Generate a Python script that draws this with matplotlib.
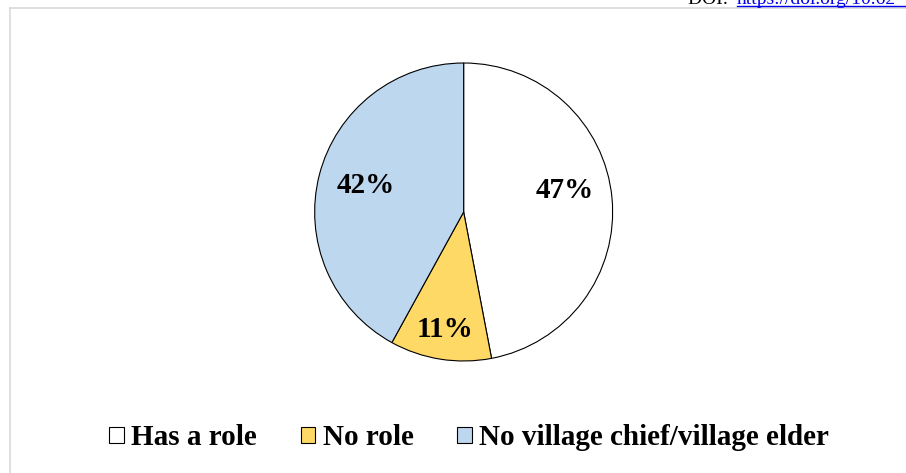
import numpy as np
import matplotlib.pyplot as plt
from matplotlib.lines import Line2D
from matplotlib.patches import Patch

labels = ["Has a role", "No role", "No village chief/village elder"]
shares = [47, 11, 42]
colors = ["#FFFFFF", "#FFD966", "#BDD7EE"]
label_dist = [0.68, 0.78, 0.68]
label_nudge = [0.08, -0.02, 0.01]

plt.rcParams['font.family'] = ['Liberation Serif', 'DejaVu Serif']

fig = plt.figure(figsize=(9.06, 4.73), dpi=100)
ax = fig.add_axes([0.3473, 0.2368, 0.3289, 0.63])

wedges, _ = ax.pie(shares, colors=colors, startangle=90, counterclock=False,
                   wedgeprops=dict(edgecolor="black", linewidth=0.8))
ax.set_aspect("equal")
ax.set_xlim(-1.0, 1.0)
ax.set_ylim(-1.0, 1.0)

for w, v, d, n in zip(wedges, shares, label_dist, label_nudge):
    ang = np.deg2rad((w.theta1 + w.theta2) / 2)
    ax.text(d * np.cos(ang), d * np.sin(ang) + n, f"{v}%", ha="center", va="center",
            fontsize=21, fontweight="bold")

handles = [Patch(facecolor=c, edgecolor="black", linewidth=0.8) for c in colors]
fig.legend(handles, labels, loc="center", bbox_to_anchor=(0.518, 0.074), ncol=3,
           frameon=False, handlelength=0.5, handleheight=0.5, handletextpad=0.25,
           columnspacing=1.5, prop=dict(size=21, weight="bold"))

# frame around the chart area
fig.add_artist(Line2D([10 / 906, 10 / 906], [0, 1 - 8 / 473], color="#D9D9D9", lw=1.2))
fig.add_artist(Line2D([10 / 906, 1], [1 - 8 / 473, 1 - 8 / 473], color="#D9D9D9", lw=1.2))

# header line above the chart, mostly outside the page
fig.text(688 / 906, 1 - 4 / 473, "DOI: ", fontsize=14, va="baseline", ha="left")
fig.text(737 / 906, 1 - 4 / 473, "https://doi.org/10.62", fontsize=14, va="baseline",
         ha="left", color="#0000EE")
fig.add_artist(Line2D([737 / 906, 1], [1 - 6 / 473, 1 - 6 / 473], color="#0000EE", lw=1))

fig.savefig("out.png", dpi=100)
